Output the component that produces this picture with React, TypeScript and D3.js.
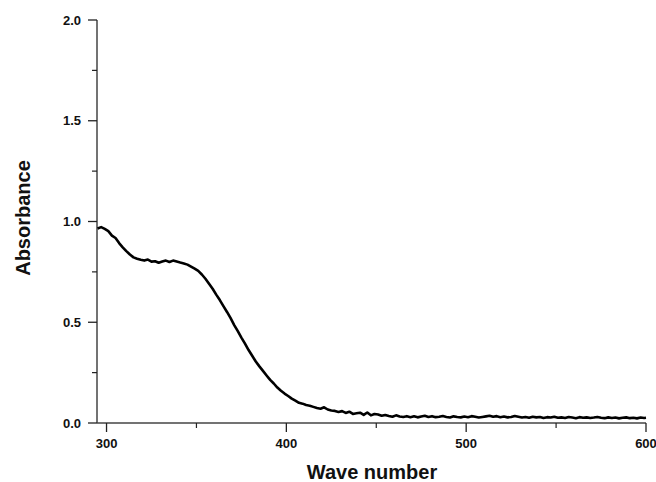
import React, { useRef, useEffect } from "react";
import * as d3 from "d3";

// wavelength (nm) and absorbance
const waveNumbers = [
  295, 297, 299, 301, 303, 305, 307, 309, 311, 313, 315, 317, 319, 321, 323, 325, 327, 329, 331, 333,
  335, 337, 339, 341, 343, 345, 347, 349, 351, 353, 355, 357, 359, 361, 363, 365, 367, 369, 371, 373,
  375, 377, 379, 381, 383, 385, 387, 389, 391, 393, 395, 397, 399, 401, 403, 405, 407, 409, 411, 413,
  415, 417, 419, 421, 423, 425, 427, 429, 431, 433, 435, 437, 439, 441, 443, 445, 447, 449, 451, 453,
  455, 457, 459, 461, 463, 465, 467, 469, 471, 473, 475, 477, 479, 481, 483, 485, 487, 489, 491, 493,
  495, 497, 499, 501, 503, 505, 507, 509, 511, 513, 515, 517, 519, 521, 523, 525, 527, 529, 531, 533,
  535, 537, 539, 541, 543, 545, 547, 549, 551, 553, 555, 557, 559, 561, 563, 565, 567, 569, 571, 573,
  575, 577, 579, 581, 583, 585, 587, 589, 591, 593, 595, 597, 599, 600,
];
const absorbance = [
  0.965, 0.972, 0.963, 0.952, 0.93, 0.918, 0.893, 0.872, 0.853, 0.836, 0.822, 0.815, 0.81, 0.806, 0.811, 0.801, 0.803, 0.795, 0.801, 0.806,
  0.799, 0.806, 0.801, 0.796, 0.792, 0.786, 0.776, 0.766, 0.755, 0.737, 0.716, 0.691, 0.666, 0.637, 0.61, 0.58, 0.551, 0.52, 0.486, 0.456,
  0.424, 0.394, 0.362, 0.334, 0.305, 0.281, 0.259, 0.236, 0.214, 0.196, 0.176, 0.16, 0.146, 0.134, 0.121, 0.111, 0.1, 0.096, 0.089, 0.086,
  0.08, 0.074, 0.071, 0.078, 0.067, 0.062, 0.06, 0.055, 0.059, 0.05, 0.056, 0.045, 0.048, 0.051, 0.04, 0.052, 0.038, 0.045, 0.042, 0.036,
  0.04, 0.035, 0.031, 0.038, 0.032, 0.03, 0.034, 0.029, 0.033, 0.028, 0.032, 0.036, 0.03, 0.034, 0.029, 0.031, 0.035, 0.03, 0.027, 0.033,
  0.03, 0.028, 0.032, 0.029, 0.034, 0.031, 0.027, 0.03, 0.033, 0.036, 0.031, 0.034, 0.029, 0.032, 0.028, 0.03, 0.035, 0.031, 0.027, 0.03,
  0.026, 0.031, 0.028, 0.03, 0.025, 0.029, 0.027, 0.031, 0.026, 0.028, 0.025, 0.03, 0.027, 0.024, 0.029, 0.026, 0.028, 0.025, 0.027, 0.03,
  0.026, 0.024, 0.028, 0.025, 0.027, 0.023, 0.026, 0.028, 0.024, 0.026, 0.023, 0.027, 0.025, 0.026,
];
const xTicks = [300, 400, 500, 600];
const xMinorTicks = [350, 450, 550];
const yTicks = [0, 0.5, 1.0, 1.5, 2.0];
const yMinorTicks = [0.25, 0.75, 1.25, 1.75];

const App = () => {
  const chartRef = useRef<SVGSVGElement | null>(null);

  const width = 656;
  const height = 482;
  const left = 97;
  const right = 646;
  const top = 20;
  const bottom = 423;
  const font = "Arial, 'Liberation Sans', sans-serif";

  useEffect(() => {
    const svg = d3.select(chartRef.current);
    svg.selectAll("*").remove();

    const x = d3.scaleLinear().domain([294.7, 600]).range([left, right]);
    const y = d3.scaleLinear().domain([0, 2]).range([bottom, top]);

    const axisColor = "#444";

    // y axis
    svg.append("line")
      .attr("x1", left).attr("x2", left).attr("y1", top).attr("y2", bottom)
      .attr("stroke", axisColor).attr("stroke-width", 1.5);
    svg.selectAll("yMajor").data(yTicks).enter().append("line")
      .attr("x1", left - 9).attr("x2", left)
      .attr("y1", (d) => y(d)).attr("y2", (d) => y(d))
      .attr("stroke", "#222").attr("stroke-width", 1.3);
    svg.selectAll("yMinor").data(yMinorTicks).enter().append("line")
      .attr("x1", left - 5).attr("x2", left)
      .attr("y1", (d) => y(d)).attr("y2", (d) => y(d))
      .attr("stroke", "#222").attr("stroke-width", 1.2);
    svg.selectAll("yLabels").data(yTicks).enter().append("text")
      .attr("x", left - 16).attr("y", (d) => y(d))
      .attr("dy", "0.36em")
      .attr("text-anchor", "end")
      .style("font-family", font).style("font-weight", "bold").style("font-size", "13px")
      .attr("fill", "#111")
      .text((d) => d3.format(".1f")(d));

    // x axis
    svg.append("line")
      .attr("x1", left).attr("x2", right).attr("y1", bottom).attr("y2", bottom)
      .attr("stroke", axisColor).attr("stroke-width", 1.5);
    svg.selectAll("xMajor").data(xTicks).enter().append("line")
      .attr("x1", (d) => x(d)).attr("x2", (d) => x(d))
      .attr("y1", bottom).attr("y2", bottom + 9)
      .attr("stroke", "#222").attr("stroke-width", 1.3);
    svg.selectAll("xMinor").data(xMinorTicks).enter().append("line")
      .attr("x1", (d) => x(d)).attr("x2", (d) => x(d))
      .attr("y1", bottom).attr("y2", bottom + 5)
      .attr("stroke", "#222").attr("stroke-width", 1.2);
    svg.selectAll("xLabels").data(xTicks).enter().append("text")
      .attr("x", (d) => x(d)).attr("y", bottom + 25)
      .attr("text-anchor", "middle")
      .style("font-family", font).style("font-weight", "bold").style("font-size", "13px")
      .attr("fill", "#111")
      .text((d) => d);

    // axis titles
    svg.append("text")
      .attr("x", 372).attr("y", 479)
      .attr("text-anchor", "middle")
      .style("font-family", font).style("font-weight", "bold").style("font-size", "20px")
      .attr("fill", "#111")
      .text("Wave number");
    svg.append("text")
      .attr("transform", `translate(30, 218) rotate(-90)`)
      .attr("text-anchor", "middle")
      .style("font-family", font).style("font-weight", "bold").style("font-size", "20px")
      .attr("fill", "#111")
      .text("Absorbance");

    // spectrum
    const line = d3.line<number>()
      .x((d, i) => x(waveNumbers[i]))
      .y((d) => y(d));
    svg.append("path")
      .datum(absorbance)
      .attr("d", line)
      .attr("fill", "none")
      .attr("stroke", "#000")
      .attr("stroke-width", 2.6)
      .attr("stroke-linejoin", "round");
  }, []);

  return (
    <svg
      ref={chartRef}
      width={width}
      height={height}
      style={{ position: "absolute", left: 0, top: 0, background: "#fff" }}
    />
  );
};

export default App;
